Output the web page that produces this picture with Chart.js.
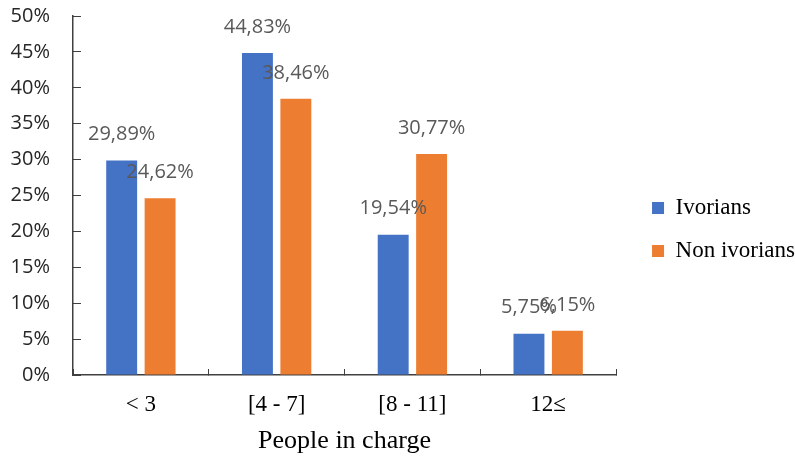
<!DOCTYPE html>
<html>
<head>
<meta charset="utf-8">
<script src="https://cdn.jsdelivr.net/npm/chart.js@4.4.1/dist/chart.umd.min.js"></script>
<style>
  html, body { margin: 0; padding: 0; background: #fff; }
  #wrap { width: 795px; height: 459px; }
</style>
</head>
<body>
<div id="wrap"><canvas id="myChart"></canvas></div>
<script>
const categories = ["< 3", "[4 - 7]", "[8 - 11]", "12\u2264"];
const ivorians = [29.89, 44.83, 19.54, 5.75];
const nonIvorians = [24.62, 38.46, 30.77, 6.15];
const seriesNames = ["Ivorians", "Non ivorians"];
const barColors = ["#4472C4", "#ED7D31"];

function pct(v) {
  return v.toFixed(2).replace('.', ',') + '%';
}

// value above each bar, centred on it
const valueLabels = {
  id: 'valueLabels',
  afterDatasetsDraw(chart) {
    const ctx = chart.ctx;
    ctx.save();
    ctx.font = '20px "Open Sans"';
    ctx.fillStyle = '#595959';
    ctx.textAlign = 'center';
    ctx.textBaseline = 'middle';
    chart.data.datasets.forEach((ds, i) => {
      chart.getDatasetMeta(i).data.forEach((bar, j) => {
        ctx.fillText(pct(ds.data[j]), bar.x, bar.y - 26);
      });
    });
    ctx.restore();
  }
};

// push the legend a bit right and up from where the layout puts it
const legendNudge = {
  id: 'legendNudge',
  afterLayout(chart) {
    const lg = chart.legend;
    lg.left += 16; lg.right += 16;
    lg.top -= 8; lg.bottom -= 8;
  }
};

// tick labels sit by the axis; no extra room at the scale ends
function noEndPadding(s) {
  s.paddingTop = 0; s.paddingBottom = 0;
  s.paddingLeft = 0; s.paddingRight = 0;
}

Chart.defaults.font.family = '"Open Sans"';
Chart.defaults.animation = false;

new Chart("myChart", {
  type: "bar",
  data: {
    labels: categories,
    datasets: [{
      label: seriesNames[0],
      data: ivorians,
      backgroundColor: barColors[0]
    }, {
      label: seriesNames[1],
      data: nonIvorians,
      backgroundColor: barColors[1]
    }]
  },
  options: {
    responsive: true,
    maintainAspectRatio: false,
    categoryPercentage: 0.566,
    barPercentage: 0.805,
    layout: { padding: { top: 16, left: 0, right: 6, bottom: 0 } },
    plugins: {
      tooltip: { enabled: false },
      legend: {
        position: 'right',
        labels: {
          boxWidth: 12,
          boxHeight: 12,
          padding: 20,
          color: '#000',
          font: { family: '"Liberation Serif"', size: 23 }
        }
      }
    },
    scales: {
      x: {
        afterFit: s => { s.height = 84; noEndPadding(s); },
        border: { color: '#404040', width: 1.5 },
        grid: { drawOnChartArea: false, tickLength: -6, color: '#404040' },
        ticks: {
          padding: 22,
          color: '#000',
          font: { family: '"Liberation Serif"', size: 23 }
        },
        title: {
          display: true,
          text: 'People in charge',
          color: '#000',
          padding: { top: 4, bottom: 2 },
          font: { family: '"Liberation Serif"', size: 26 }
        }
      },
      y: {
        min: 0,
        max: 50,
        afterFit: s => { s.width = 73; noEndPadding(s); },
        border: { color: '#404040', width: 1.5 },
        grid: { drawOnChartArea: false, tickLength: -8, color: '#404040' },
        ticks: {
          stepSize: 5,
          padding: 31,
          color: '#262626',
          font: { size: 20 },
          callback: v => v + '%'
        }
      }
    }
  },
  plugins: [valueLabels, legendNudge]
});
</script>
</body>
</html>
